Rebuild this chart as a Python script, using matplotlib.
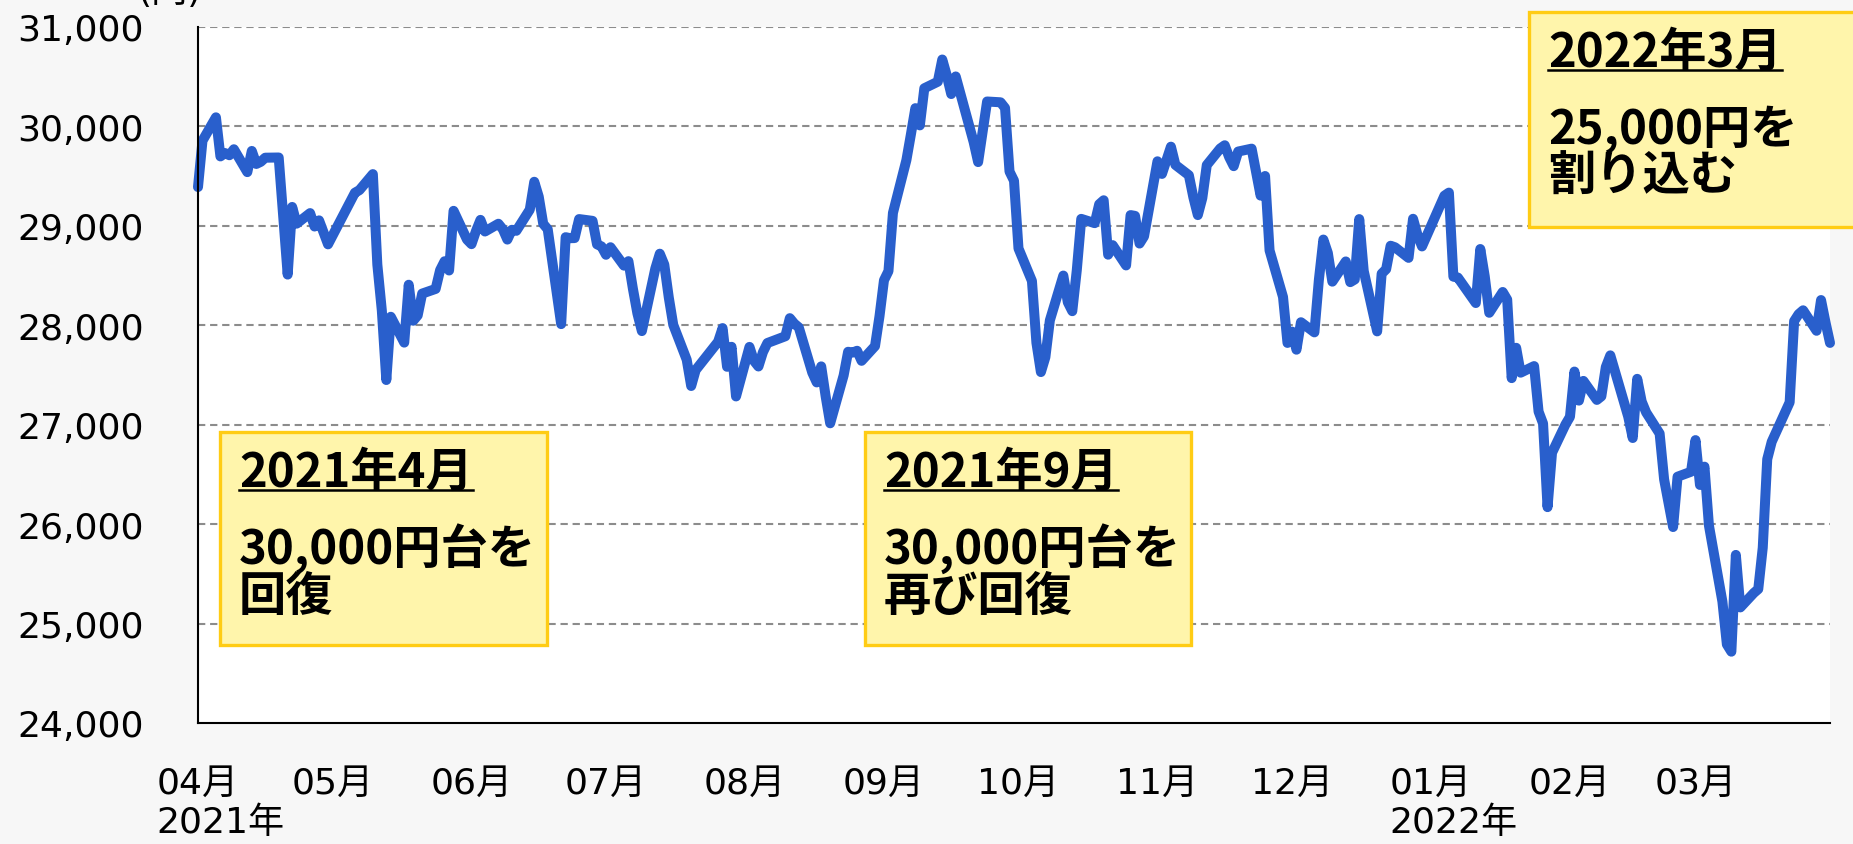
import matplotlib
matplotlib.use("Agg")
import matplotlib.pyplot as plt
import matplotlib.dates as mdates
from matplotlib.patches import Rectangle
from matplotlib.lines import Line2D
import pandas as pd

plt.rcParams['font.family'] = ['DejaVu Sans', 'Noto Sans CJK JP']

# ---------------- data ----------------
trade_dates = [
    "2021-04-01", "2021-04-02", "2021-04-05", "2021-04-06", "2021-04-07", "2021-04-08", "2021-04-09",
    "2021-04-12", "2021-04-13", "2021-04-14", "2021-04-15", "2021-04-16", "2021-04-19", "2021-04-20",
    "2021-04-21", "2021-04-22", "2021-04-23", "2021-04-26", "2021-04-27", "2021-04-28", "2021-04-30",
    "2021-05-06", "2021-05-07", "2021-05-10", "2021-05-11", "2021-05-12", "2021-05-13", "2021-05-14",
    "2021-05-17", "2021-05-18", "2021-05-19", "2021-05-20", "2021-05-21", "2021-05-24", "2021-05-25",
    "2021-05-26", "2021-05-27", "2021-05-28", "2021-05-31",
    "2021-06-01", "2021-06-02", "2021-06-03", "2021-06-04", "2021-06-07", "2021-06-08", "2021-06-09",
    "2021-06-10", "2021-06-11", "2021-06-14", "2021-06-15", "2021-06-16", "2021-06-17", "2021-06-18",
    "2021-06-21", "2021-06-22", "2021-06-23", "2021-06-24", "2021-06-25", "2021-06-28", "2021-06-29",
    "2021-06-30",
    "2021-07-01", "2021-07-02", "2021-07-05", "2021-07-06", "2021-07-07", "2021-07-08", "2021-07-09",
    "2021-07-12", "2021-07-13", "2021-07-14", "2021-07-15", "2021-07-16", "2021-07-19", "2021-07-20",
    "2021-07-21", "2021-07-26", "2021-07-27", "2021-07-28", "2021-07-29", "2021-07-30",
    "2021-08-02", "2021-08-03", "2021-08-04", "2021-08-05", "2021-08-06", "2021-08-10", "2021-08-11",
    "2021-08-12", "2021-08-13", "2021-08-16", "2021-08-17", "2021-08-18", "2021-08-19", "2021-08-20",
    "2021-08-23", "2021-08-24", "2021-08-25", "2021-08-26", "2021-08-27", "2021-08-30", "2021-08-31",
    "2021-09-01", "2021-09-02", "2021-09-03", "2021-09-06", "2021-09-07", "2021-09-08", "2021-09-09",
    "2021-09-10", "2021-09-13", "2021-09-14", "2021-09-15", "2021-09-16", "2021-09-17", "2021-09-21",
    "2021-09-22", "2021-09-24", "2021-09-27", "2021-09-28", "2021-09-29", "2021-09-30",
    "2021-10-01", "2021-10-04", "2021-10-05", "2021-10-06", "2021-10-07", "2021-10-08", "2021-10-11",
    "2021-10-12", "2021-10-13", "2021-10-14", "2021-10-15", "2021-10-18", "2021-10-19", "2021-10-20",
    "2021-10-21", "2021-10-22", "2021-10-25", "2021-10-26", "2021-10-27", "2021-10-28", "2021-10-29",
    "2021-11-01", "2021-11-02", "2021-11-04", "2021-11-05", "2021-11-08", "2021-11-09", "2021-11-10",
    "2021-11-11", "2021-11-12", "2021-11-15", "2021-11-16", "2021-11-17", "2021-11-18", "2021-11-19",
    "2021-11-22", "2021-11-24", "2021-11-25", "2021-11-26", "2021-11-29", "2021-11-30",
    "2021-12-01", "2021-12-02", "2021-12-03", "2021-12-06", "2021-12-07", "2021-12-08", "2021-12-09",
    "2021-12-10", "2021-12-13", "2021-12-14", "2021-12-15", "2021-12-16", "2021-12-17", "2021-12-20",
    "2021-12-21", "2021-12-22", "2021-12-23", "2021-12-24", "2021-12-27", "2021-12-28", "2021-12-29",
    "2021-12-30",
    "2022-01-04", "2022-01-05", "2022-01-06", "2022-01-07", "2022-01-11", "2022-01-12", "2022-01-13",
    "2022-01-14", "2022-01-17", "2022-01-18", "2022-01-19", "2022-01-20", "2022-01-21", "2022-01-24",
    "2022-01-25", "2022-01-26", "2022-01-27", "2022-01-28", "2022-01-31",
    "2022-02-01", "2022-02-02", "2022-02-03", "2022-02-04", "2022-02-07", "2022-02-08", "2022-02-09",
    "2022-02-10", "2022-02-14", "2022-02-15", "2022-02-16", "2022-02-17", "2022-02-18", "2022-02-21",
    "2022-02-22", "2022-02-24", "2022-02-25", "2022-02-28",
    "2022-03-01", "2022-03-02", "2022-03-03", "2022-03-04", "2022-03-07", "2022-03-08", "2022-03-09",
    "2022-03-10", "2022-03-11", "2022-03-14", "2022-03-15", "2022-03-16", "2022-03-17", "2022-03-18",
    "2022-03-22", "2022-03-23", "2022-03-24", "2022-03-25", "2022-03-28", "2022-03-29", "2022-03-30",
    "2022-03-31",
]

closes = [
    29388, 29854, 30089, 29696, 29730, 29708, 29768,
    29538, 29751, 29620, 29642, 29683, 29685, 29100,
    28508, 29188, 29020, 29126, 28991, 29053, 28812,
    29331, 29357, 29518, 28608, 28147, 27448, 28084,
    27824, 28406, 28044, 28098, 28317, 28364, 28553,
    28642, 28549, 29149, 28860,
    28814, 28946, 29058, 28941, 29019, 28963, 28860,
    28958, 28948, 29161, 29441, 29291, 29018, 28964,
    28010, 28884, 28874, 28875, 29066, 29048, 28812,
    28791,
    28707, 28783, 28598, 28643, 28366, 28118, 27940,
    28569, 28718, 28608, 28279, 28003, 27652, 27388,
    27548, 27833, 27970, 27581, 27782, 27283,
    27781, 27641, 27584, 27728, 27820, 27888, 28070,
    28015, 27977, 27523, 27424, 27585, 27281, 27013,
    27494, 27732, 27724, 27742, 27641, 27789, 28089,
    28451, 28543, 29128, 29659, 29916, 30181, 30008,
    30381, 30447, 30670, 30511, 30323, 30500, 29840,
    29639, 30248, 30240, 30183, 29544, 29452,
    28771, 28444, 27822, 27528, 27678, 28048, 28498,
    28230, 28140, 28550, 29068, 29025, 29215, 29255,
    28708, 28804, 28600, 29106, 29098, 28820, 28892,
    29647, 29520, 29794, 29611, 29507, 29285, 29106,
    29277, 29609, 29776, 29808, 29688, 29598, 29745,
    29774, 29302, 29499, 28751, 28283, 27821,
    27935, 27753, 28029, 27927, 28455, 28860, 28725,
    28437, 28640, 28432, 28459, 29066, 28545, 27937,
    28517, 28562, 28798, 28782, 28676, 29069, 28906,
    28791,
    29301, 29332, 28487, 28478, 28222, 28765, 28489,
    28124, 28333, 28257, 27467, 27772, 27522, 27588,
    27131, 27011, 26170, 26717, 27001,
    27078, 27533, 27241, 27439, 27248, 27284, 27579,
    27696, 27079, 26865, 27460, 27232, 27122, 26910,
    26449, 25970, 26476, 26526,
    26844, 26393, 26577, 25985, 25221, 24790, 24717,
    25690, 25162, 25307, 25346, 25762, 26652, 26827,
    27224, 28040, 28110, 28149, 27943, 28252, 28027,
    27821,
]

month_ticks = ["2021-04-01", "2021-05-01", "2021-06-01", "2021-07-01", "2021-08-01", "2021-09-01",
               "2021-10-01", "2021-11-01", "2021-12-01", "2022-01-01", "2022-02-01", "2022-03-01"]
month_labels = ["04月", "05月", "06月", "07月", "08月", "09月",
                "10月", "11月", "12月", "01月", "02月", "03月"]
year_ticks = ["2021-04-01", "2022-01-01"]
year_labels = ["2021年", "2022年"]
y_ticks = [24000, 25000, 26000, 27000, 28000, 29000, 30000, 31000]

notes_title = ["2021年4月", "2021年9月", "2022年3月"]
notes_body = [["30,000円台を", "回復"], ["30,000円台を", "再び回復"], ["25,000円を", "割り込む"]]

# ---------------- layout ----------------
W, H = 1853, 845
fig = plt.figure(figsize=(W / 100, H / 100), dpi=100)
fig.patch.set_facecolor('#f7f7f7')

ax_l, ax_r, ax_t, ax_b = 198, 1830, 27.7, 724
ax = fig.add_axes([ax_l / W, 1 - ax_b / H, (ax_r - ax_l) / W, (ax_b - ax_t) / H])
ax.set_facecolor('white')

x = pd.to_datetime(trade_dates)
ax.plot(x, closes, color='#295fcc', lw=7.2, solid_joinstyle='round', solid_capstyle='round',
        zorder=3, clip_on=False)

ax.set_xlim(pd.Timestamp("2021-04-01"), pd.Timestamp("2022-03-31"))
ax.set_ylim(24000, 31000)
ax.set_yticks(y_ticks)
ax.set_yticklabels([f"{v:,}" for v in y_ticks])
ax.set_xticks(pd.to_datetime(month_ticks))
ax.set_xticklabels(month_labels)
ax.tick_params(axis='y', length=0, pad=39, labelsize=26)
ax.tick_params(axis='x', length=0, pad=31, labelsize=26)

for yv in y_ticks[1:]:
    ax.axhline(yv, color='#8c8c8c', lw=1.5, ls=(0, (3.5, 2.3)), zorder=1)

for s in ['top', 'right']:
    ax.spines[s].set_visible(False)
for s in ['left', 'bottom']:
    ax.spines[s].set_linewidth(1.5)
    ax.spines[s].set_color('black')
    ax.spines[s].set_zorder(4)

for d, lab in zip(year_ticks, year_labels):
    ax.annotate(lab, xy=(mdates.date2num(pd.Timestamp(d)), 0), xycoords=('data', 'axes fraction'),
                xytext=(-42, -99), textcoords='offset pixels', ha='left', va='center', fontsize=26,
                annotation_clip=False)

fig.text(138 / W, 1 - 2 / H, "(円)", fontsize=26, va='baseline', ha='left')


def fx(px):
    return px / W


def fy(py):
    return 1 - py / H


# annotation boxes: (left, top, right, bottom, text_x, title_baseline, line2_baseline, line3_baseline)
boxes = [
    (220, 433, 547, 646, 239, 487, 564, 611),
    (865, 433, 1191, 646, 884, 487, 564, 611),
    (1529, 13, 1870, 228, 1548, 67, 144, 191),
]
fig.canvas.draw()
renderer = fig.canvas.get_renderer()
for (l, t, r, b, tx, y1, y2, y3), title, body in zip(boxes, notes_title, notes_body):
    rect = Rectangle((fx(l), fy(b)), (r - l) / W, (b - t) / H, transform=fig.transFigure,
                     facecolor='#fff5ab', edgecolor='#ffcc14', lw=2.4, zorder=5)
    fig.add_artist(rect)
    tt = fig.text(fx(tx), fy(y1), title, fontsize=34, fontweight='bold', family='Noto Sans CJK JP',
                  va='baseline', ha='left', zorder=6)
    fig.text(fx(tx), fy(y2), body[0], fontsize=34, fontweight='bold', family='Noto Sans CJK JP',
             va='baseline', ha='left', zorder=6)
    fig.text(fx(tx), fy(y3), body[1], fontsize=34, fontweight='bold', family='Noto Sans CJK JP',
             va='baseline', ha='left', zorder=6)
    bb = tt.get_window_extent(renderer)
    fig.add_artist(Line2D([bb.x0 / W, bb.x1 / W], [fy(y1 + 4), fy(y1 + 4)], transform=fig.transFigure,
                          color='black', lw=1.8, zorder=6))

fig.savefig("out.png", dpi=100, facecolor=fig.get_facecolor())
